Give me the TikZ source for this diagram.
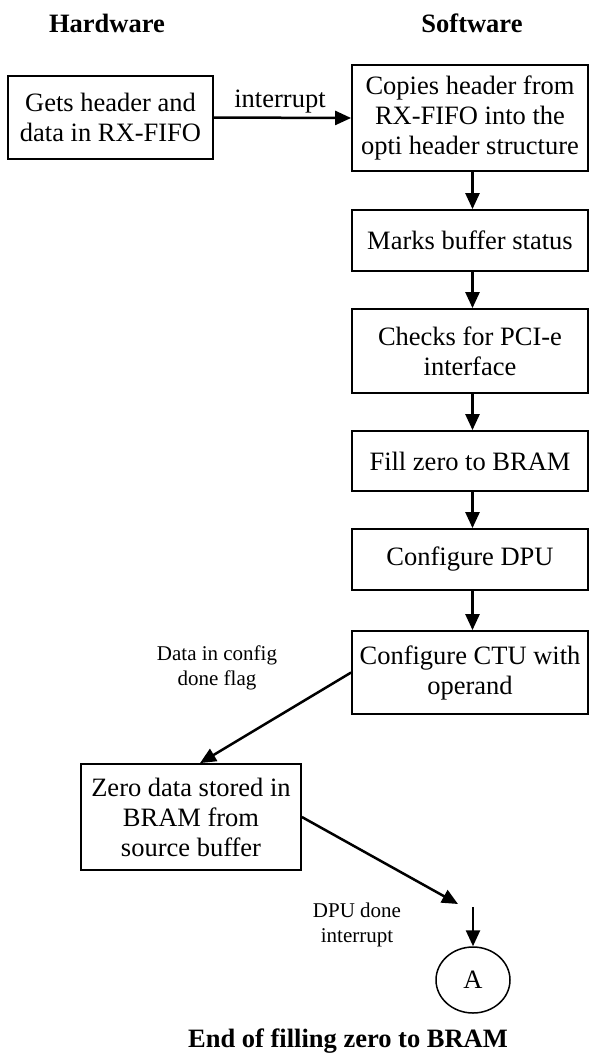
\documentclass[tikz,border=0pt]{standalone}
\usepackage{fontspec}
\setmainfont{Liberation Serif}
\usetikzlibrary{arrows.meta,calc,shapes.geometric}
\begin{document}
\begin{tikzpicture}[x=1pt,y=-1pt,
  box/.style={draw,line width=1.8pt,align=center,inner sep=0pt,font=\fontsize{26.5}{30}\selectfont},
  sbox/.style={box,minimum width=236pt},
  arr/.style={line width=2.5pt,-{Triangle[length=16pt,width=14pt]}},
  lbl/.style={font=\fontsize{26.5}{30}\selectfont},
  small/.style={align=center,font=\fontsize{21}{24.5}\selectfont},
  title/.style={font=\fontsize{26.5}{30}\selectfont\bfseries}]
\useasboundingbox (0,0) rectangle (590,1053);
\node[title,anchor=base] (th) at (107,32) {Hardware};
\node[title,anchor=base] (ts) at (472,32) {Software};
\node[box,minimum width=205pt,minimum height=83pt] (h1) at (110.5,117.5) {Gets header and\\data in RX-FIFO};
\node[sbox,minimum height=106pt] (s1) at (470,118) {Copies header from\\RX-FIFO into the\\opti header structure};
\node[sbox,minimum height=61pt] (s2) at (470,240.5) {Marks buffer status};
\node[sbox,minimum height=84pt] (s3) at (470,351) {Checks for PCI-e\\interface};
\node[sbox,minimum height=60pt] (s4) at (470,461) {Fill zero to BRAM};
\node[sbox,minimum height=61pt] (s5) at (470,559.5) {Configure DPU};
\node[sbox,minimum height=83pt] (s6) at (470,672.5) {Configure CTU with\\operand};
\node[box,minimum width=220pt,minimum height=106pt] (h2) at (191,817) {Zero data stored in\\BRAM from\\source buffer};
\node[draw,ellipse,line width=1.5pt,minimum width=74pt,minimum height=66pt,inner sep=0pt,font=\fontsize{26.5}{30}\selectfont] (a) at (473,980) {A};
\coordinate (c1) at (458,904);
\coordinate (c2) at (473,907);
\node[lbl,anchor=base] (li) at (280,107) {interrupt};
\node[small] (ld) at (217,668) {Data in config\\done flag};
\node[small] (lp) at (357,925) {DPU done\\interrupt};
\node[title,anchor=base] (end) at (348,1047) {End of filling zero to BRAM};
\draw[arr] (h1.east) -- (s1.west);
\draw[arr] ([xshift=2.5pt]s1.south) -- ([xshift=2.5pt]s2.north);
\draw[arr] ([xshift=2.5pt]s2.south) -- ([xshift=2.5pt]s3.north);
\draw[arr] ([xshift=2.5pt]s3.south) -- ([xshift=2.5pt]s4.north);
\draw[arr] ([xshift=2.5pt]s4.south) -- ([xshift=2.5pt]s5.north);
\draw[arr] ([xshift=2.5pt]s5.south) -- ([xshift=2.5pt]s6.north);
\draw[arr] (s6.west) -- ([xshift=9pt]h2.north);
\draw[arr] (h2.east) -- (c1);
\draw[arr] (c2) -- (a.north);
\end{tikzpicture}
\end{document}
